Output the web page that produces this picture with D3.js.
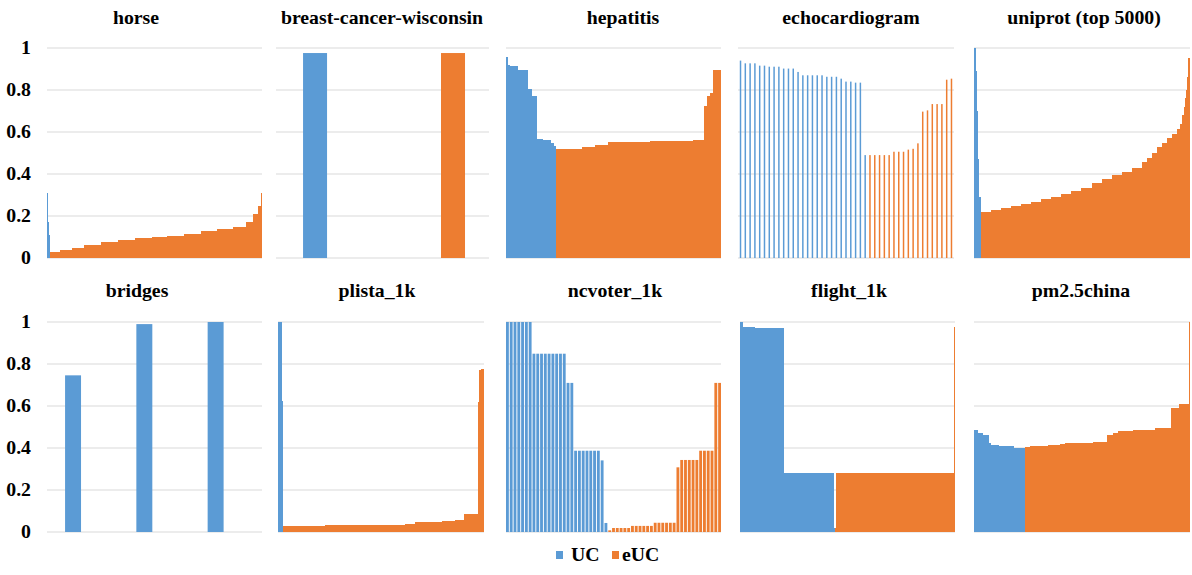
<!DOCTYPE html>
<html>
<head>
<meta charset="utf-8">
<script src="https://cdn.jsdelivr.net/npm/d3@7"></script>
<style>
  body { margin: 0; background: #fff; }
</style>
</head>
<body>
<div id="chart"></div>
<script>
// panel titles, row by row
const panelNames = ['horse', 'breast-cancer-wisconsin', 'hepatitis', 'echocardiogram', 'uniprot (top 5000)',
                    'bridges', 'plista_1k', 'ncvoter_1k', 'flight_1k', 'pm2.5china'];
const yTicks = [0, 0.2, 0.4, 0.6, 0.8, 1];
const seriesNames = ['UC', 'eUC'];

// bar heights as runs of [value, number of bars]
const horseUC = [[0.31, 1], [0.17, 1], [0.11, 1]];
const horseEUC = [[0.03, 10], [0.037, 12], [0.048, 12], [0.062, 17], [0.076, 17], [0.088, 17], [0.097, 17],
                  [0.1, 16], [0.107, 17], [0.115, 17], [0.13, 16], [0.138, 16], [0.15, 13], [0.172, 7],
                  [0.21, 5], [0.25, 3], [0.31, 1]];
const bcwUC = [[0.976, 1]];
const bcwEUC = [[0.976, 1]];
const hepUC = [[0.956, 2], [0.92, 2], [0.913, 8], [0.897, 10], [0.805, 4], [0.77, 5], [0.567, 6], [0.56, 8],
               [0.55, 3], [0.532, 2]];
const hepEUC = [[0.519, 26], [0.529, 13], [0.54, 13], [0.551, 42], [0.556, 43], [0.563, 11], [0.722, 3],
                [0.77, 3], [0.786, 3], [0.897, 8]];
const echoUC = [[0.94, 1], [0.927, 3], [0.916, 2], [0.911, 3], [0.902, 3], [0.886, 1], [0.87, 5], [0.863, 3],
                [0.854, 1], [0.84, 2], [0.835, 2], [0.49, 1]];
const echoEUC = [[0.49, 5], [0.506, 3], [0.516, 1], [0.52, 1], [0.546, 1], [0.697, 1], [0.703, 1], [0.733, 3],
                 [0.849, 1], [0.854, 1]];
const uniprotUC = [[1, 2], [0.89, 1], [0.7, 1], [0.47, 1], [0.29, 2]];
const uniprotEUC = [[0.22, 10], [0.23, 10], [0.24, 10], [0.248, 10], [0.256, 10], [0.265, 10], [0.28, 10],
                    [0.29, 10], [0.305, 10], [0.32, 10], [0.335, 10], [0.355, 10], [0.375, 10], [0.395, 10],
                    [0.41, 10], [0.43, 10], [0.455, 5], [0.475, 5], [0.5, 5], [0.53, 5], [0.55, 5], [0.57, 5],
                    [0.59, 5], [0.615, 3], [0.64, 2], [0.68, 2], [0.72, 1], [0.76, 1], [0.8, 1], [0.86, 1],
                    [0.952, 2]];
const bridgesUC = [[0.746, 1], [0.99, 1], [1, 1]];
const bridgesEUC = [];
const plistaUC = [[1, 4], [0.622, 1]];
const plistaEUC = [[0.027, 42], [0.033, 80], [0.04, 10], [0.046, 27], [0.052, 13], [0.059, 9], [0.086, 14],
                   [0.62, 1], [0.77, 2], [0.776, 3]];
const ncvoterUC = [[1, 7], [0.849, 9], [0.71, 2], [0.387, 7], [0.341, 1], [0.043, 1]];
const ncvoterEUC = [[0.008, 1], [0.019, 5], [0.029, 6], [0.044, 6], [0.308, 1], [0.343, 5], [0.387, 4], [0.71, 2]];
const flightUC = [[1, 3], [0.976, 12], [0.97, 29], [0.283, 50], [0.02, 1]];
const flightEUC = [[0.02, 1], [0.283, 118], [0.975, 1]];
const pmUC = [[0.484, 4], [0.471, 5], [0.463, 6], [0.424, 2], [0.416, 7], [0.408, 15], [0.398, 12]];
const pmEUC = [[0.405, 5], [0.408, 18], [0.414, 12], [0.419, 5], [0.424, 27], [0.429, 14], [0.46, 6],
               [0.471, 5], [0.479, 15], [0.484, 22], [0.495, 16], [0.59, 8], [0.611, 10], [1, 1]];

const panelSeries = [
    [horseUC, horseEUC], [bcwUC, bcwEUC], [hepUC, hepEUC], [echoUC, echoEUC], [uniprotUC, uniprotEUC],
    [bridgesUC, bridgesEUC], [plistaUC, plistaEUC], [ncvoterUC, ncvoterEUC], [flightUC, flightEUC], [pmUC, pmEUC]
];

// layout
const width = 1192, height = 575;
const font = '"Liberation Serif", "DejaVu Serif", "Times New Roman", Times, serif';
const color = d3.scaleOrdinal(seriesNames, ['#5B9BD5', '#ED7D31']);
const rowTop = [48, 322], rowBottom = [258, 532];
const colLeft = [[47, 276, 506, 738, 974], [47, 278, 506, 740, 974]];
const colRight = [[262, 489, 721, 954, 1190], [262, 484, 721, 955, 1190]];
const titleX = [136, 382, 623, 851, 1084, 137, 377, 615, 849, 1081];
const titleY = [24, 297];
// band padding per panel: inner, outer, align
const bandPad = [
    [0, 0, 0.5], [0.826, 0.185, 0.53], [0, 0, 0.5], [0.69, 0.37, 0.5], [0, 0, 0.5],
    [0.776, 0.396, 0.32], [0, 0, 0.5], [0.25, 0, 0.5], [0, 0, 0.5], [0, 0, 0.5]
];
const stretch = 'scale(1.1,1)';

const expand = runs => runs.flatMap(([v, n]) => d3.range(n).map(() => v));

const svg = d3.select('#chart').append('svg')
    .attr('width', width)
    .attr('height', height)
    .attr('font-family', font)
    .attr('font-weight', 'bold')
    .attr('font-size', 18);

panelNames.forEach((name, i) => {
    const row = Math.floor(i / 5), col = i % 5;
    const left = colLeft[row][col], right = colRight[row][col];
    const [ucRuns, eucRuns] = panelSeries[i];
    const bars = expand(ucRuns).map(v => ({ v, s: 'UC' }))
        .concat(expand(eucRuns).map(v => ({ v, s: 'eUC' })));

    const x = d3.scaleBand()
        .domain(d3.range(bars.length))
        .range([left, right])
        .paddingInner(bandPad[i][0])
        .paddingOuter(bandPad[i][1])
        .align(bandPad[i][2]);
    const y = d3.scaleLinear().domain([0, 1]).range([rowBottom[row], rowTop[row]]);

    const g = svg.append('g');

    g.selectAll('.grid')
        .data(yTicks)
        .enter().append('line')
        .attr('class', 'grid')
        .attr('x1', left).attr('x2', right)
        .attr('y1', d => y(d)).attr('y2', d => y(d))
        .attr('stroke', '#d9d9d9')
        .attr('stroke-width', 1);

    const dense = bandPad[i][0] === 0;
    g.selectAll('.bar')
        .data(bars)
        .enter().append('rect')
        .attr('class', 'bar')
        .attr('x', (d, j) => x(j))
        .attr('width', dense ? x.bandwidth() + 0.4 : x.bandwidth())
        .attr('y', d => y(d.v))
        .attr('height', d => y(0) - y(d.v))
        .attr('fill', d => color(d.s))
        .attr('shape-rendering', dense ? 'crispEdges' : 'auto');

    if (col === 0) {
        g.selectAll('.tick')
            .data(yTicks)
            .enter().append('text')
            .attr('class', 'tick')
            .attr('transform', d => `translate(31,${y(d)}) ${stretch}`)
            .attr('text-anchor', 'end')
            .attr('dy', '0.35em')
            .text(d => d3.format('~g')(d));
    }

    g.append('text')
        .attr('transform', `translate(${titleX[i]},${titleY[row]}) ${stretch}`)
        .attr('text-anchor', 'middle')
        .text(name);
});

// legend
const legend = svg.append('g');
const legendX = [556, 612];
seriesNames.forEach((s, k) => {
    legend.append('rect')
        .attr('x', legendX[k]).attr('y', 551)
        .attr('width', 7).attr('height', 8)
        .attr('fill', color(s));
    legend.append('text')
        .attr('transform', `translate(${legendX[k] + (k === 0 ? 15 : 10)},561) ${stretch}`)
        .text(s);
});
</script>
</body>
</html>
